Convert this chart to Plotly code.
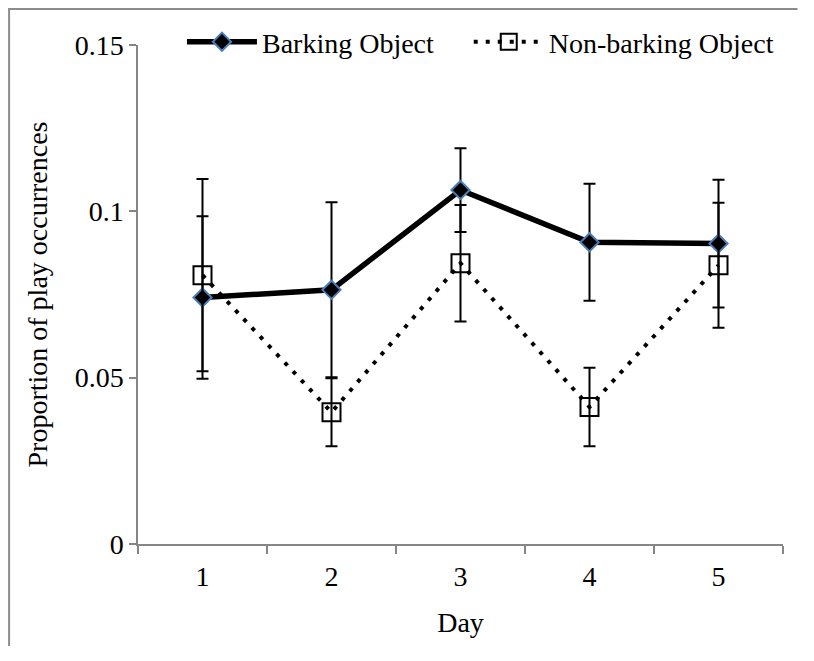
import plotly.graph_objects as go

days = ["1", "2", "3", "4", "5"]
barking = [0.0741, 0.0764, 0.1064, 0.0907, 0.0903]
barking_err = [0.0244, 0.0263, 0.0126, 0.0176, 0.0192]
nonbarking = [0.0808, 0.0396, 0.0844, 0.0412, 0.0838]
nonbarking_err = [0.0289, 0.0102, 0.0175, 0.0118, 0.0188]
y_ticks = [0, 0.05, 0.1, 0.15]
y_ticktext = ["0", "0.05", "0.1", "0.15"]

FONT = "Liberation Serif, Times New Roman, serif"
# the page body adds an 8px offset; figure sized so the page does not scroll
W, H = 790, 638
L, R, T, B = 130, 14.5, 37, 102
pw, ph = W - L - R, H - T - B

fig = go.Figure()
fig.add_trace(go.Scatter(
    x=days, y=barking, name="Barking Object", mode="lines+markers",
    legend="legend",
    line=dict(color="black", width=5.5),
    marker=dict(symbol="diamond", size=14, color="black",
                line=dict(color="#4A7EBB", width=2)),
    error_y=dict(type="data", array=barking_err, color="black", thickness=2, width=6),
))
fig.add_trace(go.Scatter(
    x=days, y=nonbarking, name="Non-barking Object", mode="lines+markers",
    legend="legend2",
    line=dict(color="black", width=4, dash="4px,8px"),
    marker=dict(symbol="square-open", size=18, color="black",
                line=dict(color="black", width=2)),
    error_y=dict(type="data", array=nonbarking_err, color="black", thickness=2, width=6),
))

# outer frame: top and left edges of the chart border
frame = dict(color="#8C8C8C", width=2)
fig.add_shape(type="line", xref="paper", yref="paper",
              x0=(1 - L) / pw, x1=(1 - L) / pw, y0=-B / ph, y1=(H - B) / ph,
              line=frame, layer="below")
fig.add_shape(type="line", xref="paper", yref="paper",
              x0=-L / pw, x1=(W - L) / pw, y0=(H - B - 1) / ph, y1=(H - B - 1) / ph,
              line=frame, layer="below")

leg = dict(orientation="h", xanchor="left", y=1.0 + 3 / ph, yanchor="middle",
           bgcolor="rgba(0,0,0,0)", font=dict(family=FONT, size=28), itemwidth=70)

fig.update_layout(
    width=W, height=H,
    margin=dict(l=L, r=R, t=T, b=B, autoexpand=False),
    paper_bgcolor="white", plot_bgcolor="white",
    font=dict(family=FONT, size=28, color="black"),
    showlegend=True,
    legend=dict(leg, x=(174 - L) / pw),
    legend2=dict(leg, x=(461 - L) / pw),
    xaxis=dict(type="category", range=[-0.5, 4.5], tickson="boundaries",
               showline=True, linecolor="#868686", linewidth=1.5,
               ticks="outside", ticklen=8, tickcolor="#868686", tickwidth=1.5,
               ticklabelstandoff=7,
               showgrid=False, zeroline=False,
               title=dict(text="Day", font=dict(size=28), standoff=21)),
    yaxis=dict(range=[0, 0.15], tickvals=y_ticks, ticktext=y_ticktext,
               showline=True, linecolor="#868686", linewidth=1.5,
               ticks="outside", ticklen=7, tickcolor="#868686", tickwidth=1.5,
               showgrid=False, zeroline=False,
               title=dict(text="Proportion of play occurrences", font=dict(size=28), standoff=19)),
)

fig.write_html("out.html")
